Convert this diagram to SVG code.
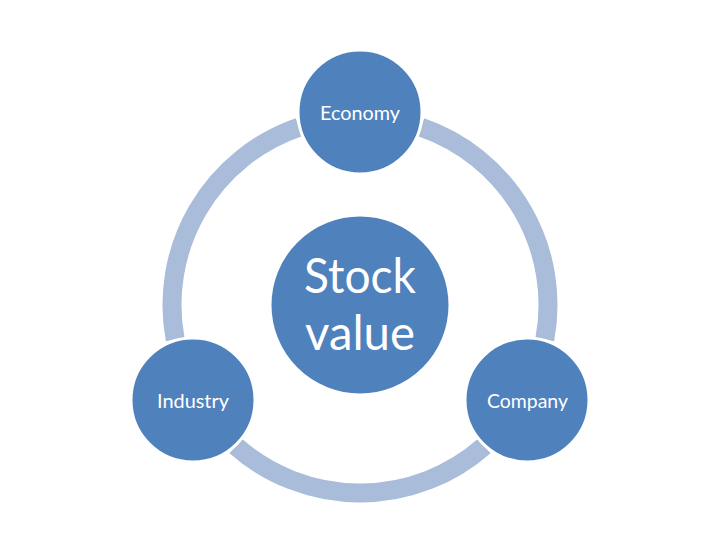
<svg xmlns="http://www.w3.org/2000/svg" width="720" height="540" viewBox="0 0 720 540">
  <style>
    .arc { fill: none; stroke: #A9BCDA; stroke-width: 19; stroke-linecap: butt; }
    .node { fill: #4F81BD; stroke: #FFFFFF; stroke-width: 3; }
    .lbl { fill: #FFFFFF; font-family: Lato, "Open Sans", "Liberation Sans", sans-serif; text-anchor: middle; }
    .small { font-size: 19px; }
    .big { font-size: 48px; }
  </style>
  <rect width="720" height="540" fill="#FFFFFF"/>
  <g id="connectors">
    <path class="arc" d="M 421.2 127.2 A 188 188 0 0 1 544.8 339.6"/>
    <path class="arc" d="M 484.3 446.0 A 188 188 0 0 1 235.7 446.0"/>
    <path class="arc" d="M 175.2 339.6 A 188 188 0 0 1 298.8 127.2"/>
  </g>
  <g id="stock-value">
    <circle class="node" cx="360" cy="305" r="90"/>
    <text class="lbl big" x="360" y="293" textLength="112" lengthAdjust="spacingAndGlyphs">Stock</text>
    <text class="lbl big" x="360" y="350" textLength="110" lengthAdjust="spacingAndGlyphs">value</text>
  </g>
  <g id="economy">
    <circle class="node" cx="360" cy="112" r="62"/>
    <text class="lbl small" x="360" y="120" textLength="80" lengthAdjust="spacingAndGlyphs">Economy</text>
  </g>
  <g id="industry">
    <circle class="node" cx="193" cy="400" r="62"/>
    <text class="lbl small" x="193" y="408" textLength="72" lengthAdjust="spacingAndGlyphs">Industry</text>
  </g>
  <g id="company">
    <circle class="node" cx="527" cy="400" r="62"/>
    <text class="lbl small" x="527.5" y="408" textLength="81" lengthAdjust="spacingAndGlyphs">Company</text>
  </g>
</svg>
